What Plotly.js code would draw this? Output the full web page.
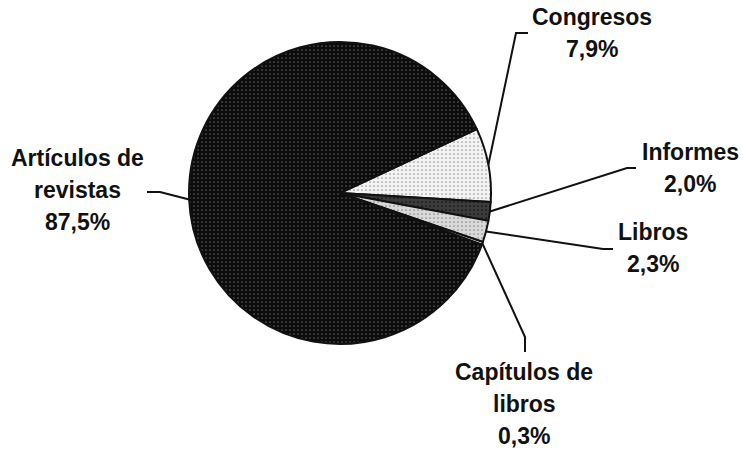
<!DOCTYPE html>
<html>
<head>
<meta charset="utf-8">
<script src="https://cdn.plot.ly/plotly-3.0.1.min.js"></script>
<style>html,body{margin:0;padding:0;background:#fff;}#chart{width:743px;height:450px;}</style>
</head>
<body>
<div id="chart"></div>
<script>
// Data
var categories = ["Congresos", "Informes", "Libros", "Capítulos de libros", "Artículos de revistas"];
var values = [7.9, 2.0, 2.3, 0.3, 87.5];
var labelLines = [["Congresos"], ["Informes"], ["Libros"], ["Capítulos de", "libros"], ["Artículos de", "revistas"]];
var sliceColors = ["#f3f3f3", "#3c3c3c", "#d9d9d9", "#ffffff", "#0c0c0c"];
var dotColors = ["#9a9a9a", "#111111", "#8a8a8a", "#ffffff", "#5a5a5a"];

// Layout constants (pixels)
var W = 743, H = 450;
var pieCx = 340, pieCy = 193, pieR = 151;
var rotationDeg = 65;
// label anchor: [center x, first-line center y], leader elbow and end
var labelPos = [[592, 17], [690, 152], [653, 232], [524, 372], [77, 158]];
var leaderElbow = [[516, 33], [627, 168], [603, 249], [525, 337], [160, 192]];
var leaderEnd = [[528, 33], [636, 168], [613, 249], [525, 352], [147, 192]];
var lineStep = 32;

function px(x) { return x / W; }
function py(y) { return 1 - y / H; }

var font = {family: "Liberation Sans, Arial, sans-serif", size: 23, color: "#111"};

var annotations = [];
var shapes = [];
var total = values.reduce(function (a, b) { return a + b; }, 0);
var cum = 0;
for (var i = 0; i < values.length; i++) {
  var lines = labelLines[i].concat([values[i].toFixed(1).replace(".", ",") + "%"]);
  for (var j = 0; j < lines.length; j++) {
    annotations.push({
      xref: "paper", yref: "paper",
      x: px(labelPos[i][0]), y: py(labelPos[i][1] + j * lineStep),
      xanchor: "center", yanchor: "middle",
      text: "<b>" + lines[j] + "</b>", showarrow: false, font: font
    });
  }
  // slice mid angle (clockwise from 12 o'clock)
  var mid = rotationDeg + (cum + values[i] / 2) / total * 360;
  cum += values[i];
  var a = mid * Math.PI / 180;
  var ex = pieCx + pieR * Math.sin(a);
  var ey = pieCy - pieR * Math.cos(a);
  shapes.push({
    type: "path", xref: "paper", yref: "paper",
    path: "M" + px(ex) + "," + py(ey) + " L" + px(leaderElbow[i][0]) + "," + py(leaderElbow[i][1]) +
          " L" + px(leaderEnd[i][0]) + "," + py(leaderEnd[i][1]),
    line: {color: "#111", width: 2}
  });
}

var trace = {
  type: "pie",
  labels: categories,
  values: values,
  sort: false,
  direction: "clockwise",
  rotation: rotationDeg,
  textinfo: "none",
  hoverinfo: "label+percent",
  domain: {x: [px(pieCx - pieR), px(pieCx + pieR)], y: [py(pieCy + pieR), py(pieCy - pieR)]},
  marker: {
    colors: sliceColors,
    line: {color: "#111", width: 2},
    pattern: {shape: ".", bgcolor: sliceColors, fgcolor: dotColors, size: 4, solidity: 0.15}
  }
};

var layout = {
  width: W, height: H,
  margin: {l: 0, r: 0, t: 0, b: 0},
  showlegend: false,
  paper_bgcolor: "#fff",
  annotations: annotations,
  shapes: shapes
};

Plotly.newPlot("chart", [trace], layout, {displayModeBar: false, staticPlot: true});
</script>
</body>
</html>
